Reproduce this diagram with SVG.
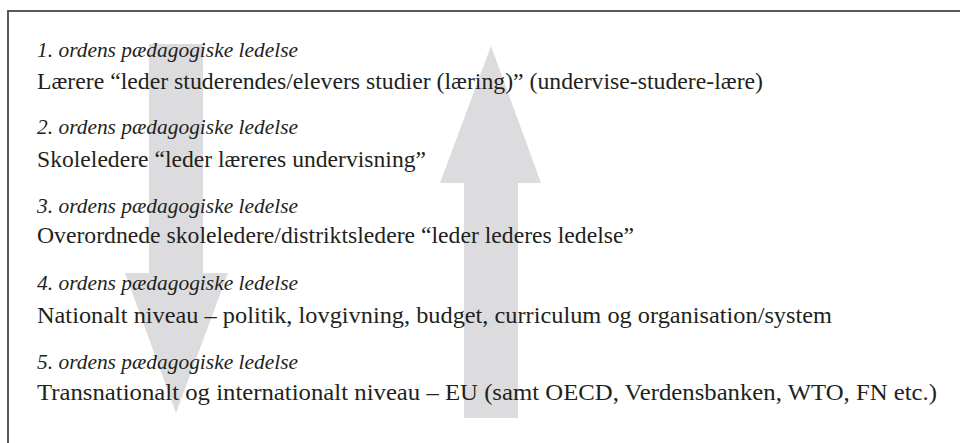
<svg xmlns="http://www.w3.org/2000/svg" width="960" height="443" viewBox="0 0 960 443">
<style>
.arrow{fill:#dcdcde;stroke:none}
.frame{fill:none;stroke:#595959;stroke-width:2}
text{font-family:"Liberation Serif","Times New Roman",serif;font-size:22.5px;fill:#231f20}
.it{font-style:italic;font-size:22px}
</style>
<rect width="960" height="443" fill="#fff"/>
<g id="frame"><path class="frame" d="M8,444 V11 H961"/></g>
<g id="connectors">
<polygon class="arrow" points="149,44 203,44 203,273 228,273 176,413 125,273 149,273"/>
<polygon class="arrow" points="491,46 541,183 518,183 518,418 464,418 464,183 440,183"/>
</g>
<g id="level1">
<text class="it" x="37" y="57" textLength="261" lengthAdjust="spacingAndGlyphs">1. ordens pædagogiske ledelse</text>
<text x="37" y="89" textLength="726" lengthAdjust="spacingAndGlyphs">Lærere “leder studerendes/elevers studier (læring)” (undervise-studere-lære)</text>
</g>
<g id="level2">
<text class="it" x="37" y="134" textLength="261" lengthAdjust="spacingAndGlyphs">2. ordens pædagogiske ledelse</text>
<text x="37" y="167" textLength="389" lengthAdjust="spacingAndGlyphs">Skoleledere “leder læreres undervisning”</text>
</g>
<g id="level3">
<text class="it" x="37" y="213" textLength="261" lengthAdjust="spacingAndGlyphs">3. ordens pædagogiske ledelse</text>
<text x="37" y="243" textLength="597" lengthAdjust="spacingAndGlyphs">Overordnede skoleledere/distriktsledere “leder lederes ledelse”</text>
</g>
<g id="level4">
<text class="it" x="37" y="290" textLength="261" lengthAdjust="spacingAndGlyphs">4. ordens pædagogiske ledelse</text>
<text x="37" y="323" textLength="795" lengthAdjust="spacingAndGlyphs">Nationalt niveau – politik, lovgivning, budget, curriculum og organisation/system</text>
</g>
<g id="level5">
<text class="it" x="37" y="369" textLength="261" lengthAdjust="spacingAndGlyphs">5. ordens pædagogiske ledelse</text>
<text x="37" y="400" textLength="900" lengthAdjust="spacingAndGlyphs">Transnationalt og internationalt niveau – EU (samt OECD, Verdensbanken, WTO, FN etc.)</text>
</g>
</svg>
